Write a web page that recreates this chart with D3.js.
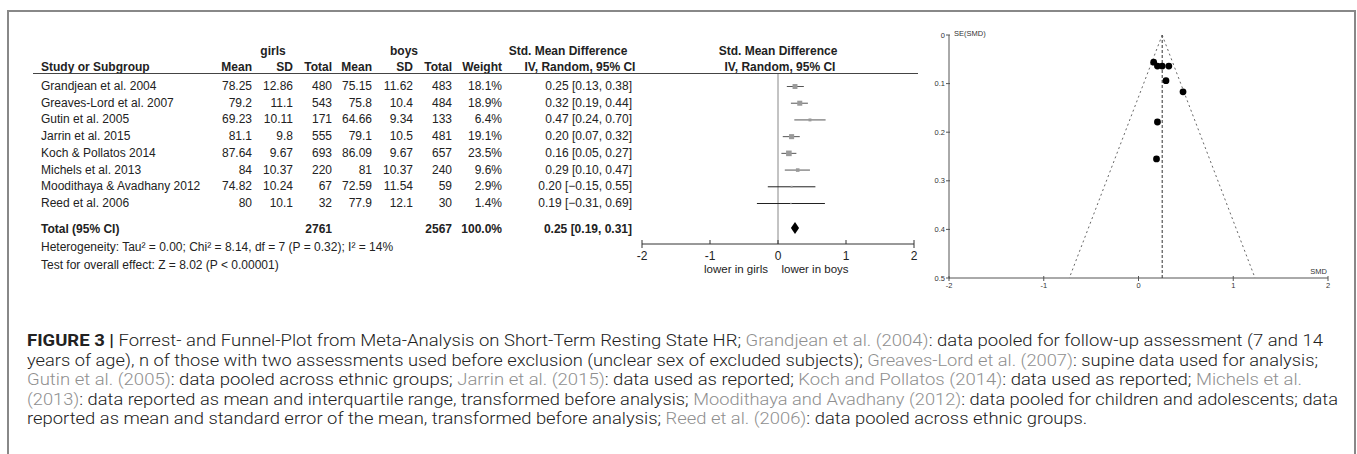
<!DOCTYPE html>
<html>
<head>
<meta charset="utf-8">
<script src="https://cdn.jsdelivr.net/npm/d3@7/dist/d3.min.js"></script>
<style>
  body { margin: 0; background: #fff; }
  svg text { font-family: "Liberation Sans", Arial, sans-serif; }
</style>
</head>
<body>
<svg width="1357" height="454"></svg>
<script>
let studies = ["Grandjean et al. 2004", "Greaves-Lord et al. 2007", "Gutin et al. 2005", "Jarrin et al. 2015",
  "Koch & Pollatos 2014", "Michels et al. 2013", "Moodithaya & Avadhany 2012", "Reed et al. 2006"];
let girlsMean = [78.25, 79.2, 69.23, 81.1, 87.64, 84, 74.82, 80];
let girlsSD = [12.86, 11.1, 10.11, 9.8, 9.67, 10.37, 10.24, 10.1];
let girlsN = [480, 543, 171, 555, 693, 220, 67, 32];
let boysMean = [75.15, 75.8, 64.66, 79.1, 86.09, 81, 72.59, 77.9];
let boysSD = [11.62, 10.4, 9.34, 10.5, 9.67, 10.37, 11.54, 12.1];
let boysN = [483, 484, 133, 481, 657, 240, 59, 30];
let weights = [18.1, 18.9, 6.4, 19.1, 23.5, 9.6, 2.9, 1.4];
let smd = [0.25, 0.32, 0.47, 0.20, 0.16, 0.29, 0.20, 0.19];
let ciLow = [0.13, 0.19, 0.24, 0.07, 0.05, 0.10, -0.15, -0.31];
let ciHigh = [0.38, 0.44, 0.70, 0.32, 0.27, 0.47, 0.55, 0.69];
let seSmd = [0.064, 0.064, 0.117, 0.064, 0.056, 0.094, 0.179, 0.255];
let total = { girlsN: 2761, boysN: 2567, weight: 100.0, smd: 0.25, low: 0.19, high: 0.31 };
let forestTicks = [-2, -1, 0, 1, 2];
let funnelXTicks = [-2, -1, 0, 1, 2];
let funnelYTicks = [0, 0.1, 0.2, 0.3, 0.4, 0.5];

let svg = d3.select("svg");
let f2 = d3.format(".2f");
let ink = "#222";

// frame
svg.append("path")
  .attr("d", "M8,454 V11 H1355 V454")
  .attr("fill", "none").attr("stroke", "#888").attr("stroke-width", 2);

// table layout
let rowY = d3.scalePoint().domain(studies).range([86, 203]);
let fs = 12;
let cols = [
  { x: 252, v: girlsMean, h: "Mean" },
  { x: 293, v: girlsSD, h: "SD" },
  { x: 332, v: girlsN, h: "Total" },
  { x: 372, v: boysMean, h: "Mean" },
  { x: 413, v: boysSD, h: "SD" },
  { x: 452, v: boysN, h: "Total" },
  { x: 502, v: weights.map(w => w.toFixed(1) + "%"), h: "Weight" }
];

let head = svg.append("g").attr("font-size", fs).attr("font-weight", "bold").attr("fill", ink);
head.append("text").attr("x", 273).attr("y", 55).attr("text-anchor", "middle").text("girls");
head.append("text").attr("x", 404).attr("y", 55).attr("text-anchor", "middle").text("boys");
head.append("text").attr("x", 568).attr("y", 55).attr("text-anchor", "middle").text("Std. Mean Difference");
head.append("text").attr("x", 778).attr("y", 55).attr("text-anchor", "middle").text("Std. Mean Difference");
head.append("text").attr("x", 41).attr("y", 71).text("Study or Subgroup");
cols.forEach(c => head.append("text").attr("x", c.x).attr("y", 71).attr("text-anchor", "end").text(c.h));
head.append("text").attr("x", 580).attr("y", 71).attr("text-anchor", "middle").text("IV, Random, 95% CI");
head.append("text").attr("x", 780).attr("y", 71).attr("text-anchor", "middle").text("IV, Random, 95% CI");

svg.append("line").attr("x1", 33).attr("x2", 918).attr("y1", 73.5).attr("y2", 73.5)
  .attr("stroke", "#444").attr("stroke-width", 1);

let body = svg.append("g").attr("font-size", fs).attr("fill", ink);
studies.forEach((s, i) => {
  let y = rowY(s) + 4;
  body.append("text").attr("x", 41).attr("y", y).text(s);
  cols.forEach(c => body.append("text").attr("x", c.x).attr("y", y).attr("text-anchor", "end").text(String(c.v[i])));
  body.append("text").attr("x", 632).attr("y", y).attr("text-anchor", "end")
    .text(f2(smd[i]) + " [" + f2(ciLow[i]) + ", " + f2(ciHigh[i]) + "]");
});

let totY = 233;
let tot = svg.append("g").attr("font-size", fs).attr("font-weight", "bold").attr("fill", ink);
tot.append("text").attr("x", 41).attr("y", totY).text("Total (95% CI)");
tot.append("text").attr("x", 332).attr("y", totY).attr("text-anchor", "end").text(total.girlsN);
tot.append("text").attr("x", 452).attr("y", totY).attr("text-anchor", "end").text(total.boysN);
tot.append("text").attr("x", 502).attr("y", totY).attr("text-anchor", "end").text(total.weight.toFixed(1) + "%");
tot.append("text").attr("x", 632).attr("y", totY).attr("text-anchor", "end")
  .text(f2(total.smd) + " [" + f2(total.low) + ", " + f2(total.high) + "]");

body.append("text").attr("x", 41).attr("y", 251)
  .text("Heterogeneity: Tau\u00b2 = 0.00; Chi\u00b2 = 8.14, df = 7 (P = 0.32); I\u00b2 = 14%");
body.append("text").attr("x", 41).attr("y", 269)
  .text("Test for overall effect: Z = 8.02 (P < 0.00001)");

// forest plot
let fx = d3.scaleLinear().domain([-2, 2]).range([642, 914]);
let axisY = 244;
let forest = svg.append("g");
forest.append("line").attr("x1", fx(0)).attr("x2", fx(0)).attr("y1", 74).attr("y2", axisY)
  .attr("stroke", "#888").attr("stroke-width", 1);
let sz = d3.scaleSqrt().domain([0, 23.5]).range([0, 5.6]);
studies.forEach((s, i) => {
  let y = rowY(s) + 0.5;
  forest.append("line").attr("x1", fx(ciLow[i])).attr("x2", fx(ciHigh[i])).attr("y1", y).attr("y2", y)
    .attr("stroke", i >= 6 ? "#222" : "#555").attr("stroke-width", 1);
  let w = sz(weights[i]);
  forest.append("rect").attr("x", fx(smd[i]) - w / 2).attr("y", y - w / 2)
    .attr("width", w).attr("height", w).attr("fill", "#9a9a9a");
});
forest.append("path")
  .attr("d", "M" + fx(total.low) + "," + (totY - 5) + " L" + fx(total.smd) + "," + (totY - 11) +
    " L" + fx(total.high) + "," + (totY - 5) + " L" + fx(total.smd) + "," + (totY + 1) + "Z")
  .attr("fill", "#000");

let fAxis = forest.append("g").attr("stroke", "#333").attr("stroke-width", 1);
fAxis.append("line").attr("x1", fx(-2)).attr("x2", fx(2)).attr("y1", axisY).attr("y2", axisY);
forestTicks.forEach(t => {
  let end = t === -2 || t === 2;
  fAxis.append("line").attr("x1", fx(t)).attr("x2", fx(t))
    .attr("y1", axisY - 4).attr("y2", end ? axisY + 4 : axisY);
});
forest.append("g").attr("font-size", 12).attr("fill", ink).selectAll("text").data(forestTicks).join("text")
  .attr("x", d => fx(d)).attr("y", 260).attr("text-anchor", "middle").text(d => String(d));
forest.append("text").attr("x", 736).attr("y", 273).attr("font-size", 11.5).attr("fill", ink)
  .attr("text-anchor", "middle").text("lower in girls");
forest.append("text").attr("x", 815).attr("y", 273).attr("font-size", 11.5).attr("fill", ink)
  .attr("text-anchor", "middle").text("lower in boys");

// funnel plot
let ux = d3.scaleLinear().domain([-2, 2]).range([949, 1328]);
let uy = d3.scaleLinear().domain([0, 0.5]).range([35, 278]);
let funnel = svg.append("g");
let gy = funnel.append("g").attr("stroke", "#555").attr("stroke-width", 1);
gy.append("line").attr("x1", ux(-2)).attr("x2", ux(-2)).attr("y1", uy(0)).attr("y2", uy(0.5));
gy.append("line").attr("x1", ux(-2)).attr("x2", ux(2)).attr("y1", uy(0.5)).attr("y2", uy(0.5));
funnelYTicks.forEach(t => gy.append("line").attr("x1", ux(-2) - 3).attr("x2", ux(-2) + 1).attr("y1", uy(t)).attr("y2", uy(t)));
funnelXTicks.forEach(t => gy.append("line").attr("x1", ux(t)).attr("x2", ux(t)).attr("y1", uy(0.5) - 2).attr("y2", uy(0.5) + 3));
funnel.append("g").attr("font-size", 7.5).attr("fill", "#333").selectAll("text").data(funnelYTicks).join("text")
  .attr("x", ux(-2) - 4).attr("y", d => uy(d) + 2.5).attr("text-anchor", "end").text(d => String(d));
funnel.append("g").attr("font-size", 7.5).attr("fill", "#333").selectAll("text").data(funnelXTicks).join("text")
  .attr("x", d => ux(d)).attr("y", uy(0.5) + 10).attr("text-anchor", "middle").text(d => String(d));
funnel.append("text").attr("x", ux(-2) + 5).attr("y", uy(0) + 1).attr("font-size", 7.5).attr("fill", "#333").text("SE(SMD)");
funnel.append("text").attr("x", ux(2) - 1).attr("y", uy(0.5) - 4).attr("font-size", 7.5).attr("fill", "#333")
  .attr("text-anchor", "end").text("SMD");

funnel.append("line").attr("x1", ux(total.smd)).attr("x2", ux(total.smd)).attr("y1", uy(0)).attr("y2", uy(0.5))
  .attr("stroke", "#333").attr("stroke-width", 1).attr("stroke-dasharray", "3,2");
[-1, 1].forEach(sgn => funnel.append("line")
  .attr("x1", ux(total.smd)).attr("y1", uy(0))
  .attr("x2", ux(total.smd + sgn * 1.96 * 0.5)).attr("y2", uy(0.5))
  .attr("stroke", "#555").attr("stroke-width", 0.9).attr("stroke-dasharray", "2,3"));
funnel.selectAll("circle").data(smd).join("circle")
  .attr("cx", d => ux(d)).attr("cy", (d, i) => uy(seSmd[i])).attr("r", 3.4).attr("fill", "#000");

// caption
let grey = "#8f8f8f";
let captionLines = [
  [["FIGURE 3 |", ink, true], [" Forrest- and Funnel-Plot from Meta-Analysis on Short-Term Resting State HR; ", ink], ["Grandjean et al. (2004)", grey], [": data pooled for follow-up assessment (7 and 14", ink]],
  [["years of age), n of those with two assessments used before exclusion (unclear sex of excluded subjects); ", ink], ["Greaves-Lord et al. (2007)", grey], [": supine data used for analysis;", ink]],
  [["Gutin et al. (2005)", grey], [": data pooled across ethnic groups; ", ink], ["Jarrin et al. (2015)", grey], [": data used as reported; ", ink], ["Koch and Pollatos (2014)", grey], [": data used as reported; ", ink], ["Michels et al.", grey]],
  [["(2013)", grey], [": data reported as mean and interquartile range, transformed before analysis; ", ink], ["Moodithaya and Avadhany (2012)", grey], [": data pooled for children and adolescents; data", ink]],
  [["reported as mean and standard error of the mean, transformed before analysis; ", ink], ["Reed et al. (2006)", grey], [": data pooled across ethnic groups.", ink]]
];
let captionWidths = [1296, 1291, 1275, 1311, null];
let cap = svg.append("g").attr("font-size", 16.5);
let squeeze = [];
captionLines.forEach((line, i) => {
  let t = cap.append("text").attr("x", 27).attr("y", 346 + i * 19.5)
    .style("font-family", "Roboto, 'Liberation Sans', sans-serif").style("font-weight", 300);
  line.forEach(seg => t.append("tspan").attr("fill", seg[1]).style("font-weight", seg[2] ? 700 : 300).text(seg[0]));
  let natural = t.node().getComputedTextLength();
  if (captionWidths[i]) squeeze.push(captionWidths[i] / natural);
  let k = captionWidths[i] ? captionWidths[i] / natural : d3.mean(squeeze);
  t.attr("textLength", natural * k).attr("lengthAdjust", "spacingAndGlyphs");
});
</script>
</body>
</html>
